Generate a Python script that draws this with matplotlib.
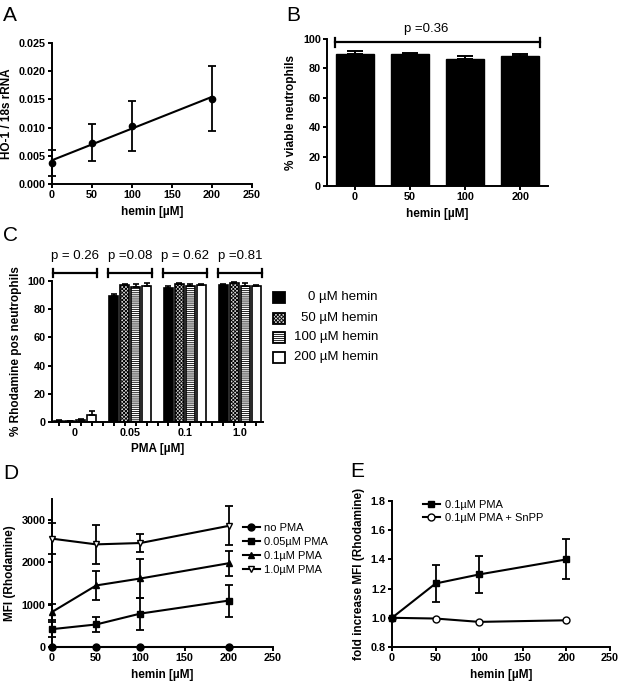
import matplotlib
matplotlib.use('Agg')
import matplotlib.pyplot as plt
import numpy as np
from matplotlib.patches import Rectangle

plt.rcParams['font.family'] = ['Liberation Sans', 'DejaVu Sans']
plt.rcParams['hatch.linewidth'] = 0.6

# ---------------- data ----------------
hemin = [0, 50, 100, 200]

# A
ho1_mean = [0.00377, 0.0073, 0.0103, 0.01515]
ho1_err = [0.0023, 0.0033, 0.0045, 0.0058]

# B
viable_cats = ['0', '50', '100', '200']
viable_mean = [90.0, 90.0, 86.4, 88.6]
viable_err = [1.6, 0.5, 1.8, 1.2]
b_pvalue = 'p =0.36'

# C
pma_labels = ['0', '0.05', '0.1', '1.0']
c_series_labels = ['0 µM hemin', '50 µM hemin', '100 µM hemin', '200 µM hemin']
rhod_h0 = [0.8, 89.6, 95.3, 97.5]
rhod_h50 = [0.5, 97.2, 97.9, 98.6]
rhod_h100 = [1.6, 95.8, 96.8, 96.8]
rhod_h200 = [5.2, 96.5, 96.9, 96.5]
rhod_h0_err = [0.3, 1.0, 1.5, 0.5]
rhod_h50_err = [0.3, 0.5, 0.4, 0.5]
rhod_h100_err = [0.6, 2.2, 1.0, 1.8]
rhod_h200_err = [2.5, 1.8, 1.0, 0.7]
c_pvalues = ['p = 0.26', 'p =0.08', 'p = 0.62', 'p =0.81']

# D
d_labels = ['no PMA', '0.05µM PMA', '0.1µM PMA', '1.0µM PMA']
mfi_nopma = [0, 0, 0, 0]
mfi_nopma_err = [0, 0, 0, 0]
mfi_005 = [422, 533, 790, 1098]
mfi_005_err = [180, 170, 380, 380]
mfi_01 = [828, 1456, 1620, 1981]
mfi_01_err = [200, 350, 450, 300]
mfi_10 = [2562, 2427, 2459, 2865]
mfi_10_err = [360, 465, 210, 460]

# E
e_labels = ['0.1µM PMA', '0.1µM PMA + SnPP']
fold_pma = [1.0, 1.235, 1.297, 1.40]
fold_pma_err = [0, 0.125, 0.128, 0.137]
fold_snpp = [1.0, 0.995, 0.972, 0.983]

# ---------------- layout helpers ----------------
W, H = 622, 685
fig = plt.figure(figsize=(W / 100, H / 100), dpi=100)

def ax_px(x0, x1, ytop, ybot):
    return fig.add_axes([x0 / W, (H - ybot) / H, (x1 - x0) / W, (ybot - ytop) / H])

def style(ax):
    for s in ['top', 'right']:
        ax.spines[s].set_visible(False)
    for s in ['left', 'bottom']:
        ax.spines[s].set_linewidth(1.4)
    ax.tick_params(width=1.4, length=3, labelsize=7.8, direction='out', pad=1.5)
    for lab in ax.get_xticklabels() + ax.get_yticklabels():
        lab.set_fontweight('bold')

def letter(x, y, s):
    fig.text(x / W, 1 - y / H, s, fontsize=15, va='top', ha='left')

LABEL = dict(fontsize=8.5, fontweight='bold')
LW = 1.5

# ---------------- A ----------------
axA = ax_px(52, 252, 43, 184)
axA.errorbar(hemin, ho1_mean, yerr=ho1_err, fmt='o', color='black', ms=4.5,
             capsize=3, elinewidth=1.3, capthick=1.3, clip_on=False, zorder=3)
slope, icpt = np.polyfit(hemin, ho1_mean, 1)
xs = np.array([min(hemin), max(hemin)])
axA.plot(xs, icpt + slope * xs, color='black', lw=LW, clip_on=False)
axA.set_xlim(0, 250)
axA.set_ylim(0, 0.025)
axA.set_xticks([0, 50, 100, 150, 200, 250])
axA.set_yticks([0, 0.005, 0.010, 0.015, 0.020, 0.025])
axA.set_yticklabels(['0.000', '0.005', '0.010', '0.015', '0.020', '0.025'])
axA.set_xlabel('hemin [µM]', **LABEL)
axA.set_ylabel('HO-1 / 18s rRNA', **LABEL)
style(axA)

# ---------------- B ----------------
axB = ax_px(327, 548, 39, 186)
xb = np.arange(len(viable_cats))
axB.bar(xb, viable_mean, width=0.69, color='black', edgecolor='black')
axB.errorbar(xb, viable_mean, yerr=[[0] * 4, viable_err], fmt='none', ecolor='black',
             capsize=6, elinewidth=1.4, capthick=1.4)
axB.set_xlim(-0.5, 3.5)
axB.set_ylim(0, 100)
axB.set_xticks(xb)
axB.set_xticklabels(viable_cats)
axB.set_yticks([0, 20, 40, 60, 80, 100])
axB.tick_params(axis='x', length=0)
axB.plot([-0.35, 3.35], [98, 98], color='black', lw=1.6, clip_on=False)
for xe in [-0.35, 3.35]:
    axB.plot([xe, xe], [94.6, 100.8], color='black', lw=1.6, clip_on=False)
axB.text(1.3, 107, b_pvalue, ha='center', va='center', fontsize=9.5)
axB.set_xlabel('hemin [µM]', **LABEL)
axB.set_ylabel('% viable neutrophils', **LABEL)
style(axB)

# ---------------- C ----------------
axC = ax_px(52, 263, 281, 422)
series = [rhod_h0, rhod_h50, rhod_h100, rhod_h200]
errs = [rhod_h0_err, rhod_h50_err, rhod_h100_err, rhod_h200_err]
faces = ['black', '#d8d8d8', 'white', 'white']
hatches = [None, 'xxxxxxxxx', '--------', None]
groups = np.arange(len(pma_labels)) * 5
for i, (vals, er) in enumerate(zip(series, errs)):
    xpos = groups + i
    axC.bar(xpos, vals, width=0.8, color=faces[i], edgecolor='black', lw=1.2,
            hatch=hatches[i])
    axC.errorbar(xpos, vals, yerr=[[0] * 4, er], fmt='none', ecolor='black',
                 capsize=2.2, elinewidth=1.2, capthick=1.2)
axC.set_xlim(-0.6, 18.6)
axC.set_ylim(0, 100)
axC.set_yticks([0, 20, 40, 60, 80, 100])
axC.set_xticks(np.arange(0, 19))
axC.set_xticklabels([''] * 19)
axC.set_xticks(groups + 1.5, minor=True)
axC.set_xticklabels(pma_labels, minor=True)
axC.tick_params(axis='x', which='minor', length=0, labelsize=7.8, pad=4)
for g, p in zip(groups, c_pvalues):
    c = g + 1.5
    axC.plot([c - 2.0, c + 2.0], [105.7, 105.7], color='black', lw=1.6, clip_on=False)
    for xe in [c - 2.0, c + 2.0]:
        axC.plot([xe, xe], [102.9, 108.5], color='black', lw=1.6, clip_on=False)
    axC.text(c, 117.7, p, ha='center', va='center', fontsize=9.5)
axC.set_xlabel('PMA [µM]', **LABEL)
axC.set_ylabel('% Rhodamine pos neutrophils', **LABEL)
style(axC)
for lab in axC.get_xticklabels(minor=True):
    lab.set_fontweight('bold')

# C legend (manual, right-aligned text)
rows_y = [297, 318, 337, 357]
for i, (lbl, yc) in enumerate(zip(c_series_labels, rows_y)):
    fig.add_artist(Rectangle((273 / W, 1 - (yc + 5.5) / H), 12 / W, 11 / H,
                             transform=fig.transFigure, facecolor=faces[i],
                             edgecolor='black', lw=1.3, hatch=hatches[i]))
    fig.text(378 / W, 1 - yc / H, lbl, ha='right', va='center', fontsize=9.5)

# ---------------- D ----------------
axD = ax_px(52, 273, 499, 647)
d_series = [(mfi_nopma, mfi_nopma_err, 'o', 'black'),
            (mfi_005, mfi_005_err, 's', 'black'),
            (mfi_01, mfi_01_err, '^', 'black'),
            (mfi_10, mfi_10_err, 'v', 'white')]
for (vals, er, m, fc), lbl in zip(d_series, d_labels):
    axD.errorbar(hemin, vals, yerr=er, fmt='-' + m, color='black', mfc=fc, mec='black',
                 ms=5, lw=LW, capsize=3, elinewidth=1.3, capthick=1.3, clip_on=False,
                 label=lbl, zorder=3)
axD.set_xlim(0, 250)
axD.set_ylim(0, 3500)
axD.set_xticks([0, 50, 100, 150, 200, 250])
axD.set_yticks([0, 1000, 2000, 3000])
axD.set_xlabel('hemin [µM]', **LABEL)
axD.set_ylabel('MFI (Rhodamine)', **LABEL)
style(axD)
hD, lD = axD.get_legend_handles_labels()
hD = [h[0] for h in hD]
axD.legend(hD, lD, loc='upper left', bbox_to_anchor=(243 / W, 1 - 523 / H),
           bbox_transform=fig.transFigure, frameon=False, fontsize=8,
           borderpad=0, borderaxespad=0, handlelength=1.5, handletextpad=0.4,
           labelspacing=0.35)

# ---------------- E ----------------
axE = ax_px(392, 610, 501, 647)
lE1 = axE.errorbar(hemin, fold_pma, yerr=fold_pma_err, fmt='-s', color='black',
                   ms=5, lw=LW, capsize=3, elinewidth=1.3, capthick=1.3,
                   clip_on=False, zorder=3)
lE2, = axE.plot(hemin, fold_snpp, '-o', color='black', mfc='white', mec='black',
                ms=5, lw=LW, clip_on=False, zorder=3)
axE.set_xlim(0, 250)
axE.set_ylim(0.8, 1.8)
axE.set_xticks([0, 50, 100, 150, 200, 250])
axE.set_yticks([0.8, 1.0, 1.2, 1.4, 1.6, 1.8])
axE.set_xlabel('hemin [µM]', **LABEL)
axE.set_ylabel('fold increase MFI (Rhodamine)', **LABEL)
style(axE)
axE.legend([lE1[0], lE2], e_labels, loc='upper left', bbox_to_anchor=(423 / W, 1 - 500 / H),
           bbox_transform=fig.transFigure, frameon=False, fontsize=8,
           borderpad=0, borderaxespad=0, handlelength=1.5, handletextpad=0.5,
           labelspacing=0.25)

# ---------------- panel letters ----------------
letter(3, 6, 'A')
letter(286, 6, 'B')
letter(3, 226, 'C')
letter(3, 464, 'D')
letter(350, 462, 'E')

fig.savefig('out.png', dpi=100)
